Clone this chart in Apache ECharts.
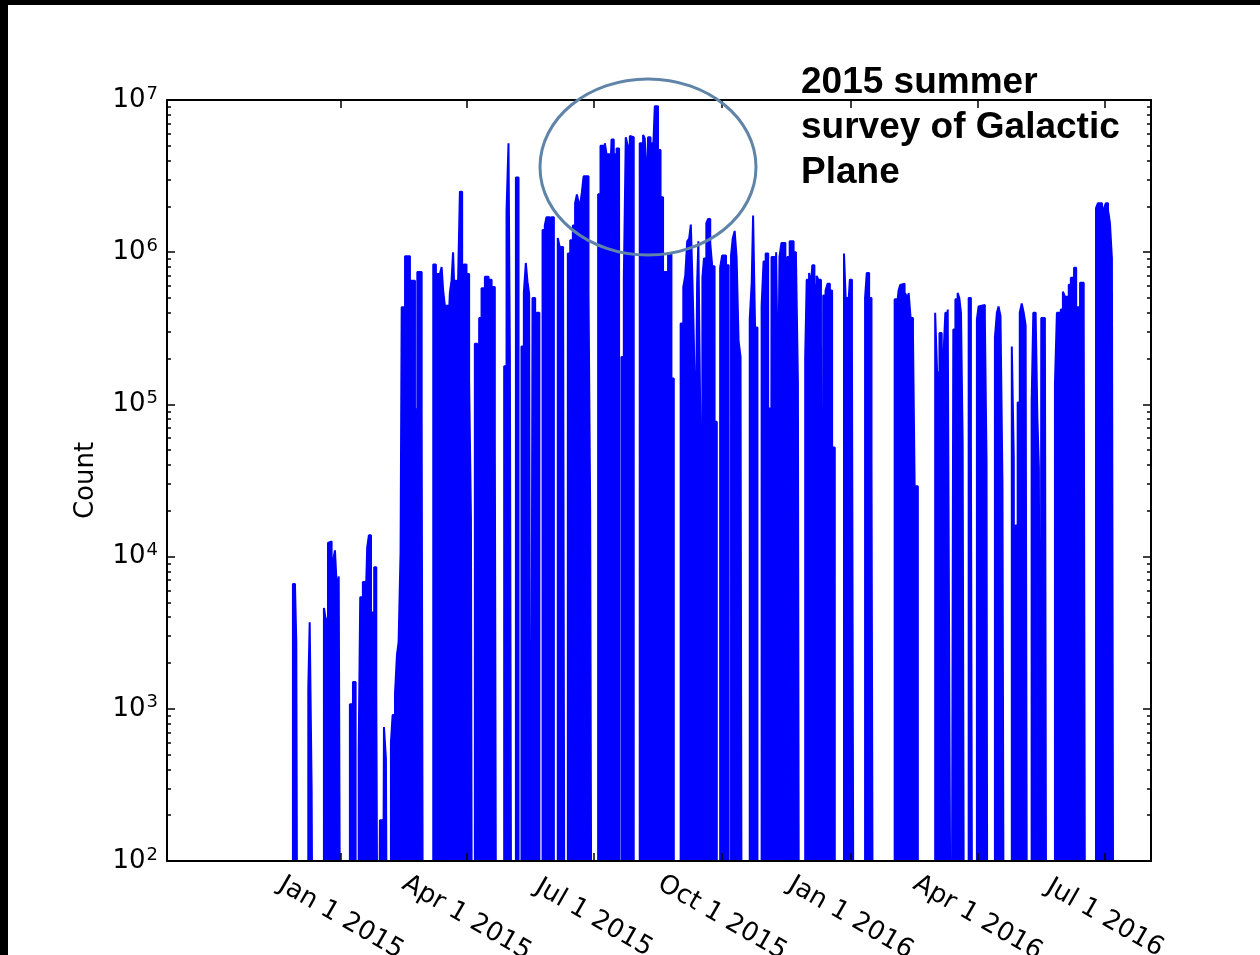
<!DOCTYPE html>
<html>
<head>
<meta charset="utf-8">
<script src="https://cdn.jsdelivr.net/npm/echarts@6.0.0/dist/echarts.min.js"></script>
<style>
  html, body { margin: 0; padding: 0; background: #fff; }
  #chart { width: 1260px; height: 955px; }
</style>
</head>
<body>
<div id="chart"></div>
<script>
// ---- DATA ----------------------------------------------------------------
// Each point: [days since 2015-01-01, count]; a count of 0 means "no data"
// (drawn at the bottom of the log axis). Values hold until the next point.
const EPOCH = '2015-01-01';

const obsLate2014 = [
  [-40, 0],
  [-34.4, 6600], [-32.9, 6300], [-32.0, 2750], [-31.0, 0],
  [-23.4, 1350], [-22.4, 3700], [-21.0, 290], [-19.8, 0],
  [-12.2, 4600], [-11.0, 3900], [-9.3, 12300], [-8.4, 12600], [-6.7, 660], [-5.5, 9500],
  [-4.3, 11000], [-2.9, 6000], [-1.6, 7400], [-0.2, 0]
];
const obsQ1_2015 = [
  [6.4, 1070], [8.6, 1500], [10.5, 0],
  [12.7, 520], [13.8, 5400], [15.7, 6800], [17.4, 3900], [18.8, 11500], [20.0, 13800],
  [21.5, 4300], [23.8, 8500], [25.3, 1260], [26.7, 0],
  [27.9, 185], [29.6, 0], [30.8, 760], [32.2, 470], [33.4, 0],
  [35.8, 600], [37.0, 910], [38.7, 1250], [40.1, 2250], [41.3, 2750], [42.7, 10700],
  [43.5, 435000], [45.9, 940000], [49.4, 650000], [53.0, 93000], [54.7, 740000], [57.8, 93000], [58.9, 0],
  [66.1, 830000], [68.0, 720000], [70.2, 165000], [70.9, 720000], [72.1, 800000], [73.2, 560000],
  [74.4, 445000], [76.8, 295000], [78.0, 540000], [79.2, 650000], [80.3, 1000000], [81.0, 650000],
  [82.8, 178000], [83.9, 650000], [85.2, 2500000], [86.8, 720000], [88.0, 830000], [89.9, 720000]
];
const obsQ2_2015 = [
  [91.8, 145000], [93.1, 18000], [94.0, 0],
  [95.9, 250000], [97.6, 0],
  [99.0, 370000], [100.7, 580000], [103.1, 690000], [105.7, 660000], [107.9, 590000], [110.2, 62000], [111.4, 0],
  [116.9, 178000], [118.6, 1850000], [120.0, 5200000], [121.0, 215000], [122.2, 0],
  [125.3, 3100000], [127.2, 0],
  [129.3, 240000], [131.0, 540000], [132.4, 850000], [133.6, 640000], [134.8, 530000], [135.8, 0],
  [137.2, 500000], [139.1, 0],
  [140.1, 400000], [142.1, 0],
  [144.4, 1400000], [146.0, 1500000], [147.2, 1700000], [149.6, 1550000], [150.8, 1700000], [152.5, 0],
  [155.3, 1240000], [156.7, 1080000], [159.1, 730000], [160.3, 0],
  [162.5, 980000], [164.2, 1200000], [166.1, 1500000], [167.7, 2100000], [169.0, 2400000],
  [170.1, 2150000], [171.3, 2050000], [172.5, 2450000], [173.8, 3150000], [177.3, 560000],
  [178.5, 21000], [179.7, 0]
];
const obsQ3_2015 = [
  [184.2, 2400000], [185.9, 5000000], [189.0, 5200000], [190.2, 4400000], [192.6, 2700000],
  [193.8, 5500000], [195.4, 4400000], [197.4, 4800000], [199.2, 0],
  [200.9, 205000], [202.6, 670000], [204.0, 5700000], [205.4, 5000000], [206.9, 5800000], [208.3, 5700000], [209.7, 0],
  [214.0, 5200000], [216.4, 5900000], [217.6, 5600000], [218.8, 2600000], [220.0, 5700000],
  [221.7, 5200000], [223.6, 4700000], [224.8, 9100000], [227.1, 4700000], [228.9, 2300000],
  [230.7, 740000], [234.3, 980000], [236.7, 148000], [238.4, 0],
  [243.3, 340000], [245.2, 590000], [246.6, 700000], [248.0, 1180000], [249.4, 1230000],
  [250.6, 1520000], [251.8, 630000], [252.7, 280000], [254.1, 49000], [255.1, 620000],
  [256.0, 1180000], [257.4, 74000], [258.4, 0],
  [258.9, 680000], [260.0, 910000], [261.7, 1550000], [262.9, 1650000], [264.5, 1150000],
  [265.9, 810000], [267.6, 77000], [269.2, 0],
  [271.6, 790000]
];
const obsQ4_2015 = [
  [273.0, 950000], [275.8, 820000], [277.7, 0],
  [279.4, 950000], [280.6, 1230000], [282.0, 1380000], [283.4, 910000], [284.8, 260000], [286.2, 205000], [287.2, 0],
  [292.8, 365000], [294.2, 630000], [295.2, 1740000], [296.6, 320000], [298.3, 0],
  [301.3, 445000], [302.7, 870000], [304.2, 980000], [306.0, 94000], [307.7, 0],
  [308.4, 930000], [311.7, 1000000], [313.1, 104000], [314.1, 930000], [315.5, 1150000],
  [318.3, 430000], [319.7, 930000], [321.4, 1180000], [324.2, 1000000], [325.9, 930000],
  [327.3, 140000], [328.2, 0],
  [332.5, 200000], [333.6, 660000], [335.3, 730000], [336.7, 610000], [337.6, 820000],
  [339.1, 610000], [340.7, 700000], [341.9, 660000], [343.8, 275000], [345.0, 0],
  [345.4, 520000], [347.1, 560000], [348.5, 620000], [350.2, 560000], [351.8, 52000], [353.7, 0],
  [360.3, 980000], [361.5, 500000], [363.1, 400000], [364.5, 660000]
];
const obsQ1_2016 = [
  [366.0, 220000], [367.4, 0],
  [375.4, 500000], [376.6, 730000], [378.3, 500000], [380.0, 44000], [381.2, 0],
  [396.6, 490000], [398.3, 445000], [399.4, 560000], [400.6, 610000], [401.8, 620000],
  [403.7, 540000], [404.9, 520000], [406.6, 540000], [408.0, 370000], [409.7, 295000],
  [410.9, 29000], [413.2, 0],
  [425.6, 400000], [427.0, 162000], [428.7, 295000], [430.3, 91000], [431.2, 0],
  [431.5, 205000], [432.9, 400000], [434.6, 420000], [435.8, 1000], [437.2, 0],
  [438.6, 310000], [440.1, 490000], [441.7, 540000], [442.9, 500000], [444.1, 400000],
  [445.3, 55000], [446.5, 0],
  [449.6, 500000], [451.2, 57000], [452.4, 0],
  [455.5, 360000]
];
const obsQ2_2016 = [
  [456.7, 440000], [457.9, 450000], [461.2, 360000], [462.4, 42000], [463.1, 0],
  [468.4, 275000], [469.8, 400000], [471.0, 440000], [472.4, 380000], [473.8, 30000], [475.0, 0],
  [480.5, 240000], [481.9, 45000], [482.6, 0], [483.0, 16000], [484.7, 103000], [486.2, 400000],
  [487.6, 460000], [489.0, 400000], [490.4, 330000], [491.6, 0],
  [494.7, 100000], [495.9, 400000], [497.6, 380000], [498.8, 83000], [499.9, 38000], [501.1, 0],
  [501.6, 370000], [504.2, 316000], [505.4, 0],
  [511.4, 136000], [512.8, 400000], [515.6, 420000], [517.1, 550000], [518.5, 510000],
  [521.3, 610000], [522.8, 680000], [525.1, 790000], [526.6, 435000], [529.4, 630000],
  [532.0, 400000], [533.2, 0],
  [540.8, 1950000], [542.2, 2100000], [545.1, 1730000], [546.5, 1950000]
];
const obsQ3_2016 = [
  [547.9, 2100000], [549.4, 1900000], [550.8, 1550000], [552.2, 910000], [553.4, 0]
];

const xDomainDays = [-124.6, 580.2];
const xTickDates = ['2015-01-01', '2015-04-01', '2015-07-01', '2015-10-01', '2016-01-01', '2016-04-01', '2016-07-01'];
const xTickLabels = ['Jan 1 2015', 'Apr 1 2015', 'Jul 1 2015', 'Oct 1 2015', 'Jan 1 2016', 'Apr 1 2016', 'Jul 1 2016'];
const yTickValues = [1e2, 1e3, 1e4, 1e5, 1e6, 1e7];
const yLabel = 'Count';
const annotationText = '2015 summer\nsurvey of Galactic\nPlane';

// ---- BUILD ---------------------------------------------------------------
const DAY_MS = 86400000;
function parseUTC(s) { const p = s.split('-').map(Number); return Date.UTC(p[0], p[1] - 1, p[2]); }
const EPOCH_MS = parseUTC(EPOCH);
const FLOOR = 1; // below the axis minimum -> clipped to the bottom

const allObs = [].concat(obsLate2014, obsQ1_2015, obsQ2_2015, obsQ3_2015, obsQ4_2015, obsQ1_2016, obsQ2_2016, obsQ3_2016);
// Each count holds until the next sample time: emit a vertical step at every sample.
const seriesData = [];
allObs.forEach((p, i) => {
  const c = p[1] > 0 ? p[1] : FLOOR;
  if (i > 0) {
    const prev = allObs[i - 1][1] > 0 ? allObs[i - 1][1] : FLOOR;
    seriesData.push([p[0], prev]);
  }
  seriesData.push([p[0], c]);
});

// x axis is in days since EPOCH; ticks sit on the quarter dates
const xTickDays = xTickDates.map(s => Math.round((parseUTC(s) - EPOCH_MS) / DAY_MS));

const yMinorTicks = [];
for (let e = 2; e < 7; e++) for (let m = 2; m <= 9; m++) yMinorTicks.push(m * Math.pow(10, e));

const FONT = 'DejaVu Sans';
const BLACK = '#000';

function xAxisCfg(pos, showLabels) {
  return {
    type: 'value', position: pos, min: xDomainDays[0], max: xDomainDays[1], z: 5,
    axisLine: { show: true, onZero: false, lineStyle: { color: BLACK, width: 2 } },
    axisTick: { show: true, inside: true, length: 8, customValues: xTickDays, lineStyle: { color: BLACK, width: 1.5 } },
    axisLabel: showLabels ? {
      show: true, customValues: xTickDays,
      formatter: v => { const i = xTickDays.findIndex(t => Math.abs(t - v) < 0.01); return i >= 0 ? xTickLabels[i] : ''; },
      rotate: -30, align: 'center', verticalAlign: 'middle', margin: 57,
      fontFamily: FONT, fontSize: 26, color: BLACK
    } : { show: false },
    splitLine: { show: false }, minorTick: { show: false }
  };
}
function yAxisCfg(pos, major) {
  const cfg = {
    type: 'log', logBase: 10, min: 1e2, max: 1e7, position: pos, z: 5,
    axisLine: { show: major, onZero: false, lineStyle: { color: BLACK, width: 2 } },
    axisTick: { show: true, inside: true, length: major ? 8 : 4,
      customValues: major ? yTickValues : yMinorTicks, lineStyle: { color: BLACK, width: 1.5 } },
    axisLabel: { show: false },
    splitLine: { show: false }, minorTick: { show: false }
  };
  if (major && pos === 'left') {
    cfg.axisLabel = {
      show: true, customValues: yTickValues, margin: 9,
      formatter: v => '{b|10}{e|' + Math.round(Math.log10(v)) + '}',
      rich: {
        b: { fontFamily: FONT, fontSize: 26, color: BLACK },
        e: { fontFamily: FONT, fontSize: 18, color: BLACK, padding: [0, 0, 12, 1] }
      }
    };
    cfg.name = yLabel;
    cfg.nameLocation = 'middle';
    cfg.nameGap = 68;
    cfg.nameTextStyle = { fontFamily: FONT, fontSize: 26, color: BLACK };
  }
  return cfg;
}

const chart = echarts.init(document.getElementById('chart'), null, { renderer: 'canvas', width: 1260, height: 955 });
chart.setOption({
  animation: false,
  backgroundColor: '#fff',
  grid: { left: 167, right: 109, top: 100, bottom: 94, containLabel: false, outerBoundsMode: 'none' },
  xAxis: [xAxisCfg('bottom', true), xAxisCfg('top', false)],
  yAxis: [yAxisCfg('left', true), yAxisCfg('left', false), yAxisCfg('right', true), yAxisCfg('right', false)],
  series: [{
    type: 'line', xAxisIndex: 0, yAxisIndex: 0, data: seriesData,
    showSymbol: false, symbol: 'none', clip: true, z: 2,
    lineStyle: { color: '#0000ff', width: 2 },
    areaStyle: { color: '#0000ff', opacity: 1, origin: 'start' }
  }],
  graphic: [
    { type: 'rect', shape: { x: 0, y: 0, width: 1260, height: 5 }, style: { fill: BLACK }, z: 100 },
    { type: 'rect', shape: { x: 0, y: 0, width: 8, height: 955 }, style: { fill: BLACK }, z: 100 },
    { type: 'ellipse', shape: { cx: 648, cy: 167, rx: 108, ry: 88 },
      style: { fill: 'none', stroke: '#5f84a8', lineWidth: 3 }, z: 100 },
    { type: 'text', x: 801, y: 60, z: 100,
      style: { text: annotationText, font: 'bold 37px "Liberation Sans", Arial, sans-serif',
        lineHeight: 45, fill: BLACK, align: 'left', verticalAlign: 'top' } }
  ]
});
</script>
</body>
</html>
